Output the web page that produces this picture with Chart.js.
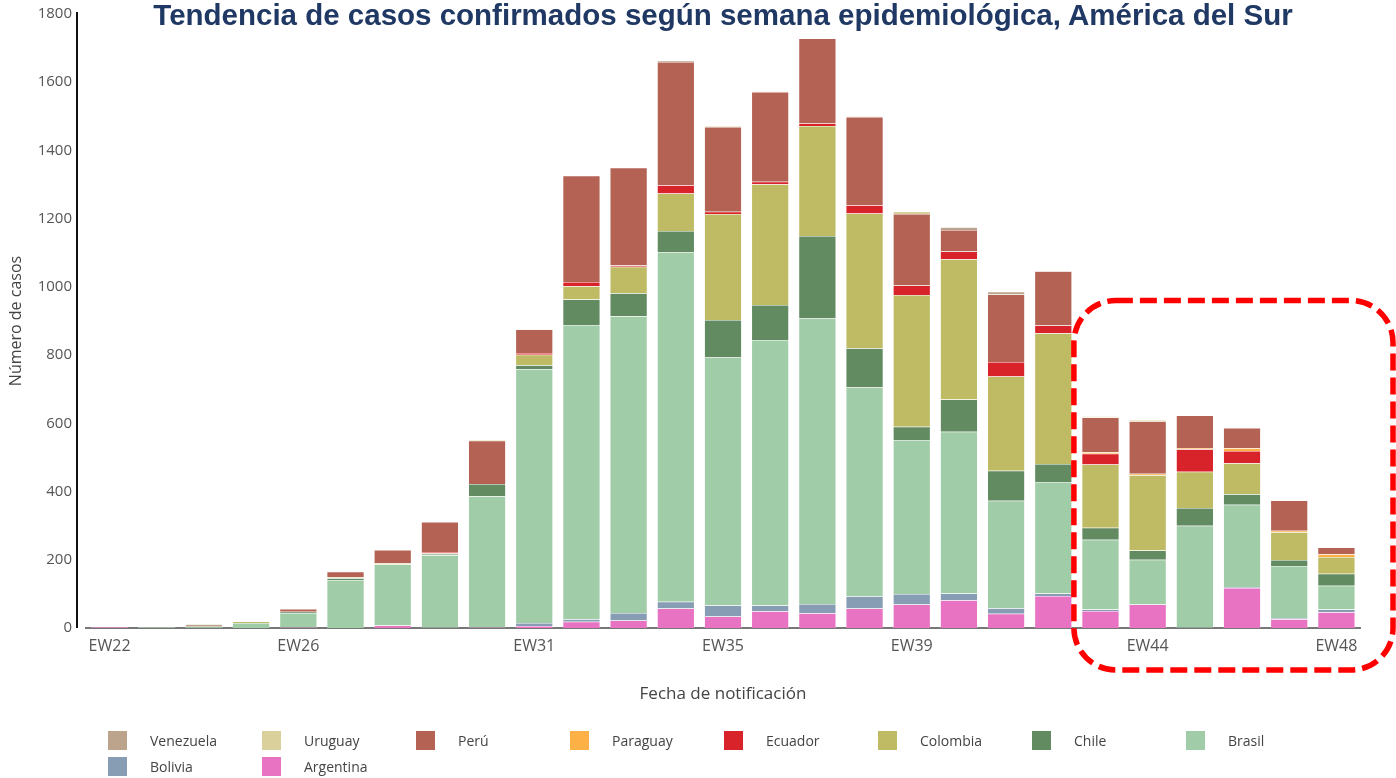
<!DOCTYPE html>
<html>
<head>
<meta charset="utf-8">
<script src="https://cdn.jsdelivr.net/npm/chart.js@4"></script>
<style>
    body { margin: 0; background: #fff; }
    #wrap { position: relative; width: 1396px; height: 778px; }
    #title {
        position: absolute; left: 0; top: -2px; width: 1446px; text-align: center;
        font: bold 29.5px "Liberation Sans", Arial, sans-serif; color: #1f3864;
    }
    #legend {
        position: absolute; left: 108px; top: 730px;
        display: grid; grid-template-columns: repeat(8, 154px); row-gap: 6px;
        font: 14px "Open Sans", sans-serif; color: #444;
    }
    .item { display: flex; align-items: center; height: 20px; }
    .sw { width: 19px; height: 19px; margin-right: 23px; }
</style>
</head>
<body>
<div id="wrap">
    <canvas id="chart" width="1396" height="778"></canvas>
    <div id="title">Tendencia de casos confirmados según semana epidemiológica, América del Sur</div>
    <div id="legend"></div>
</div>
<script>
const weeks = ['EW22', 'EW23', 'EW24', 'EW25', 'EW26', 'EW27', 'EW28', 'EW29', 'EW30', 'EW31', 'EW32', 'EW33', 'EW34',
    'EW35', 'EW36', 'EW37', 'EW38', 'EW39', 'EW40', 'EW41', 'EW42', 'EW43', 'EW44', 'EW45', 'EW46', 'EW47', 'EW48'];
const shownWeeks = ['EW22', 'EW26', 'EW31', 'EW35', 'EW39', 'EW44', 'EW48'];

// stacked bottom to top
const argentina = [3, 0, 0, 0, 2, 0, 7, 1, 2, 6, 18, 22, 57, 34, 49, 43, 57, 69, 81, 42, 94, 50, 69, 0, 117, 26, 46];
const bolivia   = [0, 0, 0, 0, 0, 0, 0, 0, 0, 9, 8, 22, 20, 32, 17, 27, 36, 31, 20, 16, 7, 4, 0, 1, 3, 3, 8];
const brasil    = [0, 3, 4, 15, 42, 141, 179, 212, 384, 743, 862, 870, 1024, 727, 778, 837, 612, 451, 474, 315, 327, 205, 131, 299, 241, 153, 70];
const chile     = [0, 0, 0, 0, 4, 5, 0, 4, 36, 12, 75, 67, 63, 110, 103, 242, 115, 39, 95, 88, 53, 35, 27, 52, 31, 17, 35];
const colombia  = [0, 0, 0, 4, 0, 3, 4, 2, 0, 31, 39, 78, 110, 311, 354, 323, 395, 386, 411, 276, 383, 185, 221, 106, 91, 82, 49];
const ecuador   = [0, 0, 0, 0, 0, 0, 0, 4, 0, 5, 12, 4, 24, 6, 7, 8, 24, 28, 23, 43, 23, 32, 0, 66, 36, 0, 0];
const paraguay  = [0, 0, 0, 0, 0, 0, 0, 0, 0, 0, 0, 0, 0, 0, 0, 0, 0, 0, 0, 0, 0, 4, 4, 4, 8, 4, 8];
const peru      = [0, 0, 0, 0, 8, 16, 39, 88, 127, 69, 312, 286, 361, 249, 263, 248, 259, 210, 63, 198, 159, 102, 154, 95, 59, 89, 20];
const uruguay   = [0, 0, 0, 0, 0, 0, 0, 0, 3, 2, 0, 0, 0, 2, 2, 0, 2, 7, 0, 0, 0, 4, 4, 0, 0, 0, 0];
const venezuela = [0, 0, 7, 0, 0, 0, 0, 0, 0, 0, 0, 0, 4, 0, 0, 0, 0, 0, 8, 8, 0, 0, 0, 0, 0, 0, 0];

const series = [
    ['Argentina', argentina, '#e873c3'],
    ['Bolivia', bolivia, '#879db3'],
    ['Brasil', brasil, '#a1cca8'],
    ['Chile', chile, '#638b62'],
    ['Colombia', colombia, '#bfbb65'],
    ['Ecuador', ecuador, '#d9232b'],
    ['Paraguay', paraguay, '#fcb045'],
    ['Perú', peru, '#b46254'],
    ['Uruguay', uruguay, '#d9d09b'],
    ['Venezuela', venezuela, '#bca38c']
];

const tickFont = { family: 'Open Sans', size: 15 };

// y axis line and the red dashed highlight box
const extras = {
    id: 'extras',
    afterDraw(chart) {
        const { ctx, chartArea, scales } = chart;
        ctx.save();
        ctx.strokeStyle = '#111';
        ctx.lineWidth = 2;
        ctx.beginPath();
        ctx.moveTo(chartArea.left - 9, scales.y.getPixelForValue(1800) - 2);
        ctx.lineTo(chartArea.left - 9, chartArea.bottom);
        ctx.stroke();

        const x1 = scales.x.getPixelForValue(20.5) - 3;
        const x2 = chart.width - 3;
        const y1 = scales.y.getPixelForValue(960);
        const y2 = chartArea.bottom + 42;
        ctx.strokeStyle = '#ff0000';
        ctx.lineWidth = 5.5;
        ctx.setLineDash([17, 7]);
        ctx.beginPath();
        ctx.roundRect(x1, y1, x2 - x1, y2 - y1, 42);
        ctx.stroke();
        ctx.restore();
    }
};

const chart = new Chart(document.getElementById('chart'), {
    type: 'bar',
    data: {
        labels: weeks,
        datasets: series.map(([name, values, color]) => ({
            label: name,
            data: values,
            backgroundColor: color,
            borderColor: 'rgba(255,255,255,0.6)',
            borderWidth: 0.5,
            barPercentage: 0.79,
            categoryPercentage: 1
        }))
    },
    options: {
        responsive: false,
        animation: false,
        layout: { padding: { top: 14, right: 36, bottom: 70, left: 0 } },
        plugins: {
            legend: { display: false },
            tooltip: { enabled: false }
        },
        scales: {
            x: {
                stacked: true,
                grid: { display: false, drawTicks: false },
                border: { color: '#777', width: 2 },
                ticks: {
                    autoSkip: false,
                    maxRotation: 0,
                    padding: 9,
                    color: '#555',
                    font: { family: 'Open Sans', size: 16 },
                    callback(value) {
                        const w = this.getLabelForValue(value);
                        return shownWeeks.includes(w) ? w : '';
                    }
                },
                title: {
                    display: true,
                    text: 'Fecha de notificación',
                    color: '#444',
                    font: { family: 'Open Sans', size: 17 },
                    padding: { top: 0, bottom: 4 }
                },
                afterFit(scale) { scale.height = 80; }
            },
            y: {
                stacked: true,
                min: 0,
                max: 1800,
                grid: { display: false, drawTicks: false },
                border: { display: false },
                ticks: {
                    stepSize: 200,
                    padding: 14,
                    color: '#555',
                    font: tickFont,
                    callback: value => String(value)
                },
                title: {
                    display: true,
                    text: 'Número de casos',
                    color: '#444',
                    font: { family: 'Open Sans', size: 16 },
                    padding: { top: 7, bottom: 0 }
                },
                afterFit(scale) {
                    scale.width = 86;
                    scale.paddingTop = 0;
                    scale.paddingBottom = 0;
                }
            }
        }
    },
    plugins: [extras]
});

// legend in fixed columns, top series first
const legendEl = document.getElementById('legend');
chart.data.datasets.slice().reverse().forEach(ds => {
    const item = document.createElement('div');
    item.className = 'item';
    item.innerHTML = '<span class="sw" style="background:' + ds.backgroundColor + '"></span>' + ds.label;
    legendEl.appendChild(item);
});
</script>
</body>
</html>
